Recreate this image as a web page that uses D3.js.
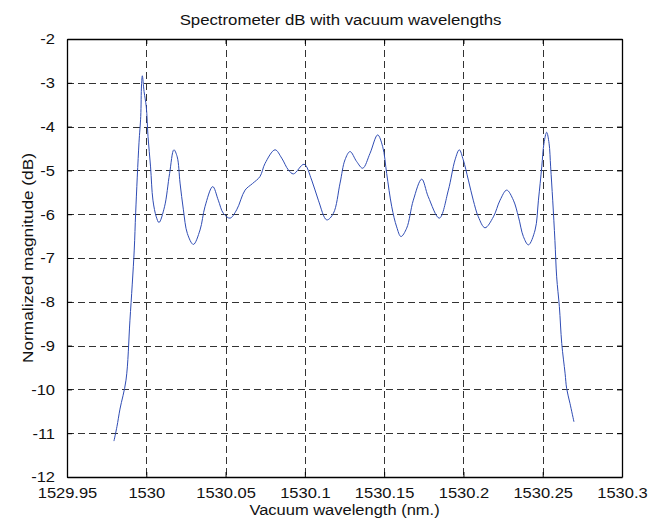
<!DOCTYPE html>
<html>
<head>
<meta charset="utf-8">
<script src="https://cdn.jsdelivr.net/npm/d3@7/dist/d3.min.js"></script>
<style>
  html, body { margin: 0; padding: 0; background: #fff; }
  svg { display: block; font-family: "Liberation Sans", Arial, sans-serif; }
</style>
</head>
<body>
<svg id="chart" width="649" height="523"></svg>
<script>
// Spectrometer trace: vacuum wavelength (nm) and normalized magnitude (dB)
const wavelength = [
  1529.9796, 1529.9815, 1529.9834, 1529.9872, 1529.9897, 1529.9924, 1529.9933,
  1529.9954, 1529.9965, 1529.9970, 1529.9975, 1529.9986, 1530.0000, 1530.0011,
  1530.0027, 1530.0042, 1530.0063, 1530.0080, 1530.0115, 1530.0147, 1530.0174,
  1530.0195, 1530.0213, 1530.0234, 1530.0259, 1530.0297, 1530.0339, 1530.0370,
  1530.0419, 1530.0454, 1530.0486, 1530.0528, 1530.0570, 1530.0623, 1530.0670,
  1530.0717, 1530.0749, 1530.0812, 1530.0854, 1530.0896, 1530.0928, 1530.0995,
  1530.1043, 1530.1085, 1530.1138, 1530.1180, 1530.1222, 1530.1253, 1530.1285,
  1530.1327, 1530.1365, 1530.1411, 1530.1459, 1530.1491, 1530.1516, 1530.1548,
  1530.1579, 1530.1606, 1530.1642, 1530.1684, 1530.1737, 1530.1778, 1530.1848,
  1530.1905, 1530.1947, 1530.1974, 1530.1999, 1530.2031, 1530.2062, 1530.2094,
  1530.2136, 1530.2189, 1530.2231, 1530.2273, 1530.2315, 1530.2347, 1530.2378,
  1530.2410, 1530.2452, 1530.2473, 1530.2494, 1530.2508, 1530.2525, 1530.2540,
  1530.2550, 1530.2563, 1530.2577, 1530.2588, 1530.2605, 1530.2620, 1530.2641,
  1530.2651, 1530.2672, 1530.2697
];
const magnitude = [
  -11.18, -10.85, -10.45, -9.79, -8.42, -6.82, -5.97,
  -4.37, -3.77, -3.05, -2.84, -3.20, -3.55, -4.23,
  -4.92, -5.68, -6.06, -6.19, -5.83, -5.07, -4.53,
  -4.69, -5.29, -5.90, -6.44, -6.69, -6.36, -5.83,
  -5.37, -5.68, -5.98, -6.09, -5.90, -5.45, -5.30,
  -5.14, -4.84, -4.53, -4.72, -4.99, -5.08, -4.86,
  -5.22, -5.68, -6.13, -5.98, -5.29, -4.76, -4.57,
  -4.80, -4.95, -4.61, -4.19, -4.46, -5.07, -5.83,
  -6.29, -6.51, -6.32, -5.68, -5.20, -5.60, -6.09,
  -5.45, -4.76, -4.53, -4.76, -5.22, -5.68, -6.06,
  -6.31, -6.06, -5.68, -5.45, -5.68, -6.06, -6.51,
  -6.70, -6.36, -5.68, -4.92, -4.38, -4.13, -4.38,
  -4.92, -5.68, -6.60, -7.43, -8.11, -8.95, -9.63,
  -9.98, -10.32, -10.74
];
const xTicks = [1529.95, 1530, 1530.05, 1530.1, 1530.15, 1530.2, 1530.25, 1530.3];
const xTickLabels = ["1529.95", "1530", "1530.05", "1530.1", "1530.15", "1530.2", "1530.25", "1530.3"];
const yTicks = [-2, -3, -4, -5, -6, -7, -8, -9, -10, -11, -12];
const yTickLabels = ["-2", "-3", "-4", "-5", "-6", "-7", "-8", "-9", "-10", "-11", "-12"];

const margin = { left: 67, right: 27, top: 39, bottom: 46 };
const W = 649, H = 523;
const FS = 15;       // base font size
const STRETCH = 1.1; // slightly wide lettering
const svg = d3.select("#chart");
const pw = W - margin.left - margin.right;
const ph = H - margin.top - margin.bottom;

const x = d3.scaleLinear().domain([1529.95, 1530.3]).range([0, pw]);
const y = d3.scaleLinear().domain([-12, -2]).range([ph, 0]);

const g = svg.append("g").attr("transform", `translate(${margin.left},${margin.top})`);

// dashed grid
g.append("g").selectAll("line").data(xTicks.slice(1, -1)).join("line")
  .attr("x1", d => Math.round(x(d)) + 0.5).attr("x2", d => Math.round(x(d)) + 0.5)
  .attr("y1", 0).attr("y2", ph)
  .attr("stroke", "#333").attr("stroke-width", 1).attr("stroke-dasharray", "7,4");
g.append("g").selectAll("line").data(yTicks.slice(1, -1)).join("line")
  .attr("y1", d => Math.round(y(d)) + 0.5).attr("y2", d => Math.round(y(d)) + 0.5)
  .attr("x1", 0).attr("x2", pw)
  .attr("stroke", "#333").attr("stroke-width", 1).attr("stroke-dasharray", "7,4");

// trace
const line = d3.line().x((d, i) => x(wavelength[i])).y(d => y(d)).curve(d3.curveCatmullRom.alpha(0.5));
g.append("path").datum(magnitude).attr("d", line)
  .attr("fill", "none").attr("stroke", "#2f4cb4").attr("stroke-width", 1);

// axes with inward ticks on all sides
const fmtX = (d, i) => xTickLabels[i];
const fmtY = (d, i) => yTickLabels[i];
const axB = g.append("g").attr("transform", `translate(0,${ph})`)
  .call(d3.axisBottom(x).tickValues(xTicks).tickFormat(fmtX).tickSizeInner(-5).tickSizeOuter(0).tickPadding(10));
const axL = g.append("g")
  .call(d3.axisLeft(y).tickValues(yTicks).tickFormat(fmtY).tickSizeInner(-5).tickSizeOuter(0).tickPadding(12));
const axT = g.append("g")
  .call(d3.axisTop(x).tickValues(xTicks).tickFormat("").tickSizeInner(-5).tickSizeOuter(0));
const axR = g.append("g").attr("transform", `translate(${pw},0)`)
  .call(d3.axisRight(y).tickValues(yTicks).tickFormat("").tickSizeInner(-5).tickSizeOuter(0));
[axB, axL, axT, axR].forEach(a => {
  a.select(".domain").attr("stroke", "#000").attr("stroke-width", 1.3);
  a.selectAll(".tick line").attr("stroke", "#000");
  a.selectAll("text").attr("font-size", FS).attr("fill", "#111")
    .attr("font-family", "'Liberation Sans', Arial, sans-serif");
});
// widen tick labels around their anchor points
axB.selectAll(".tick text").attr("transform", `scale(${STRETCH},1)`);
axL.selectAll(".tick text").each(function () {
  const t = d3.select(this);
  const x0 = +t.attr("x");
  t.attr("x", x0 / STRETCH).attr("transform", `scale(${STRETCH},1)`);
});

// titles
svg.append("text")
  .attr("transform", `translate(${margin.left + pw / 2 - 4},25) scale(1.12,1)`)
  .attr("text-anchor", "middle").attr("font-size", FS).attr("fill", "#111")
  .text("Spectrometer dB with vacuum wavelengths");
svg.append("text")
  .attr("transform", `translate(${margin.left + pw / 2},515) scale(${STRETCH},1)`)
  .attr("text-anchor", "middle").attr("font-size", FS).attr("fill", "#111")
  .text("Vacuum wavelength (nm.)");
svg.append("text")
  .attr("transform", `translate(33,${margin.top + ph / 2}) rotate(-90) scale(1.15,1)`)
  .attr("text-anchor", "middle").attr("font-size", FS).attr("fill", "#111")
  .text("Normalized magnitude (dB)");
</script>
</body>
</html>
